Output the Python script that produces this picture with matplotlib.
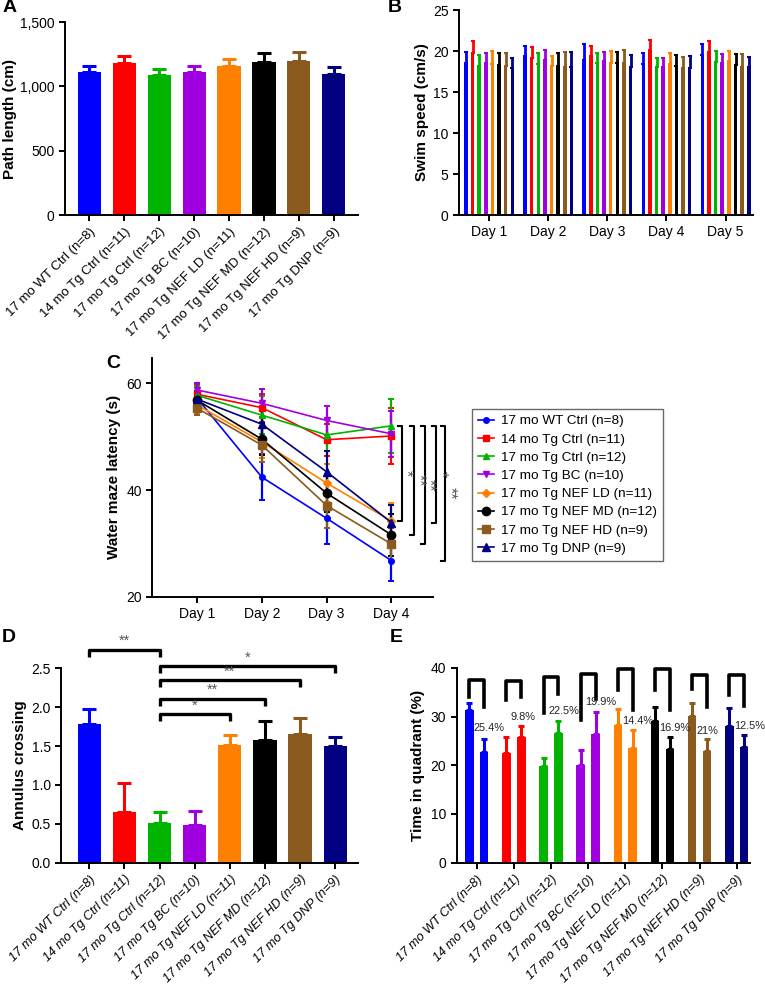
import matplotlib
matplotlib.use("Agg")
import matplotlib.pyplot as plt
from matplotlib.lines import Line2D
import numpy as np

plt.rcParams['font.family'] = ['Liberation Sans', 'DejaVu Sans']

# ---------------------------------------------------------------------------
# Data
# ---------------------------------------------------------------------------

groups = ["17 mo WT Ctrl (n=8)", "14 mo Tg Ctrl (n=11)", "17 mo Tg Ctrl (n=12)",
          "17 mo Tg BC (n=10)", "17 mo Tg NEF LD (n=11)", "17 mo Tg NEF MD (n=12)",
          "17 mo Tg NEF HD (n=9)", "17 mo Tg DNP (n=9)"]
colors = ["#0000ff", "#ff0000", "#00b400", "#a000e0",
          "#ff8000", "#000000", "#8b5a1e", "#000080"]
markers = ["o", "s", "^", "v", "D", "o", "s", "^"]
marker_sizes = [4, 4.5, 5, 5, 4, 6, 6, 6]

# A: path length
path_len = [1113, 1183, 1090, 1113, 1158, 1189, 1197, 1096]
path_err = [47, 55, 44, 45, 59, 72, 67, 56]

# B: swim speed, one row per day, one column per group
swim_days = ["Day 1", "Day 2", "Day 3", "Day 4", "Day 5"]
swim_speed = [
    [18.6, 19.7, 18.2, 18.5, 18.4, 18.3, 18.2, 17.9],
    [19.4, 19.1, 18.4, 18.9, 18.2, 18.2, 18.1, 18.0],
    [18.9, 19.4, 18.5, 18.8, 18.6, 18.6, 18.5, 18.0],
    [18.4, 20.1, 18.1, 18.0, 18.4, 18.2, 17.9, 17.9],
    [19.5, 19.9, 18.7, 18.6, 18.8, 18.3, 18.1, 18.1],
]
swim_err = [
    [1.25, 1.5, 1.3, 1.3, 1.6, 1.4, 1.6, 1.2],
    [1.2, 1.4, 1.3, 1.2, 1.2, 1.6, 1.8, 1.9],
    [2.0, 1.2, 1.2, 1.1, 1.4, 1.3, 1.6, 1.5],
    [1.3, 1.3, 1.1, 1.1, 1.3, 1.3, 1.4, 1.5],
    [1.3, 1.3, 1.3, 1.0, 1.2, 1.3, 1.5, 1.2],
]

# C: water maze latency, one row per group
latency_days = ["Day 1", "Day 2", "Day 3", "Day 4"]
latency = [
    [57.2, 42.4, 34.7, 26.8],
    [57.9, 55.4, 49.4, 50.1],
    [57.7, 54.0, 50.3, 52.0],
    [58.7, 56.2, 53.0, 50.5],
    [55.9, 49.0, 41.3, 34.2],
    [56.8, 49.5, 39.4, 31.6],
    [55.3, 48.4, 37.1, 29.9],
    [57.0, 52.3, 43.4, 33.9],
]
latency_err = [
    [2.8, 4.3, 4.7, 3.9],
    [1.8, 2.6, 3.0, 5.2],
    [1.8, 3.5, 3.0, 5.1],
    [1.3, 2.6, 2.7, 4.3],
    [1.5, 3.0, 3.5, 3.4],
    [1.5, 3.0, 3.5, 4.0],
    [1.2, 3.2, 4.2, 3.0],
    [1.5, 3.0, 3.9, 3.3],
]
# day-4 comparisons vs 17 mo Tg Ctrl (group index, stars)
latency_sig = [(4, "*"), (5, "**"), (6, "**"), (7, "*"), (0, "**")]

# D: annulus crossing
annulus = [1.78, 0.65, 0.51, 0.49, 1.51, 1.58, 1.66, 1.50]
annulus_err = [0.20, 0.38, 0.14, 0.18, 0.13, 0.24, 0.20, 0.12]
annulus_sig = [(0, 2, "**"), (2, 7, "*"), (2, 6, "**"), (2, 5, "**"), (2, 4, "*")]
annulus_sig_y = [2.74, 2.53, 2.35, 2.11, 1.91]

# E: time in quadrant (target / opposite)
quad_a = [31.3, 22.6, 19.8, 20.0, 28.3, 29.1, 30.1, 28.0]
quad_a_err = [1.4, 3.2, 1.6, 3.2, 3.2, 2.8, 2.7, 3.7]
quad_b = [22.8, 25.8, 26.7, 26.5, 23.5, 23.4, 23.0, 23.8]
quad_b_err = [2.6, 2.3, 2.4, 4.5, 3.7, 2.4, 2.3, 2.5]
quad_pct = ["25.4%", "9.8%", "22.5%", "19.9%", "14.4%", "16.9%", "21%", "12.5%"]
# bracket: top, left leg bottom, right leg bottom, label y
quad_brackets = [
    (37.5, 34.1, 31.9, 27.6),
    (37.3, 33.5, 34.1, 30.0),
    (38.2, 30.7, 34.6, 31.2),
    (38.7, 29.3, 33.7, 32.9),
    (39.7, 35.4, 31.4, 29.0),
    (39.7, 35.5, 31.4, 27.6),
    (38.5, 35.6, 32.0, 27.1),
    (38.5, 34.5, 32.2, 28.1),
]


# ---------------------------------------------------------------------------
# Helpers
# ---------------------------------------------------------------------------

def style_axes(ax):
    ax.spines[["top", "right"]].set_visible(False)
    for s in ["left", "bottom"]:
        ax.spines[s].set_linewidth(1.4)
    ax.tick_params(direction="out", width=1.4, length=4, labelsize=10)


def group_xticks(ax, x, italic=False, size=9.5):
    ax.set_xticks(x)
    ax.set_xticklabels(groups, rotation=45, ha="right", rotation_mode="anchor",
                       fontsize=size, style="italic" if italic else "normal")


def bar_panel(ax, vals, errs, width=0.66):
    x = np.arange(len(vals))
    ax.bar(x, vals, width=width, color=colors, zorder=2)
    for xi, v, e, c in zip(x, vals, errs, colors):
        ax.errorbar(xi, v, yerr=[[0], [e]], fmt="none", ecolor=c,
                    elinewidth=2.2, capsize=5, capthick=2.2, zorder=1)
    return x


fig = plt.figure(figsize=(7.65, 9.84), dpi=100)

# ---------------------------------------------------------------------------
# A
# ---------------------------------------------------------------------------
axA = fig.add_axes([0.085, 0.7815, 0.383, 0.196])
x = bar_panel(axA, path_len, path_err)
axA.set_xlim(-0.69, 7.69)
axA.set_ylim(0, 1500)
axA.set_yticks([0, 500, 1000, 1500])
axA.set_yticklabels(["0", "500", "1,000", "1,500"])
axA.set_ylabel("Path length (cm)", fontsize=11, fontweight="bold", labelpad=2)
style_axes(axA)
group_xticks(axA, x)

# ---------------------------------------------------------------------------
# B
# ---------------------------------------------------------------------------
axB = fig.add_axes([0.600, 0.7815, 0.384, 0.2083])
pitch = 0.112
for d in range(len(swim_days)):
    for k in range(len(groups)):
        xb = d + (k - 3.5) * pitch
        axB.bar(xb, swim_speed[d][k], width=0.06, color=colors[k], zorder=2)
        axB.errorbar(xb, swim_speed[d][k], yerr=[[0], [swim_err[d][k]]], fmt="none",
                     ecolor=colors[k], elinewidth=2.0, capsize=1.5, capthick=1.5)
axB.set_xlim(-0.51, 4.46)
axB.set_ylim(0, 25)
axB.set_yticks([0, 5, 10, 15, 20, 25])
axB.set_xticks(range(len(swim_days)))
axB.set_xticklabels(swim_days, fontsize=9.5)
axB.set_ylabel("Swim speed (cm/s)", fontsize=11, fontweight="bold", labelpad=3)
style_axes(axB)

# ---------------------------------------------------------------------------
# C
# ---------------------------------------------------------------------------
axC = fig.add_axes([0.199, 0.3933, 0.367, 0.243])
days = np.arange(1, len(latency_days) + 1)
for g in range(len(groups)):
    axC.errorbar(days, latency[g], yerr=latency_err[g], color=colors[g],
                 marker=markers[g], markersize=marker_sizes[g], linewidth=1.2,
                 elinewidth=1.6, capsize=2.5, capthick=1.4)
axC.set_xlim(0.31, 4.64)
axC.set_ylim(20, 64.7)
axC.set_yticks([20, 40, 60])
axC.set_xticks(days)
axC.set_xticklabels(latency_days, fontsize=9.5)
axC.set_ylabel("Water maze latency (s)", fontsize=11, fontweight="bold")
style_axes(axC)

ref = latency[2][-1]
bx = [4.16, 4.35, 4.51, 4.69, 4.83]
for xb, (g, stars) in zip(bx, latency_sig):
    lo = latency[g][-1]
    axC.plot([xb - 0.06, xb, xb, xb - 0.06], [ref, ref, lo, lo], color="black",
             lw=1.5, clip_on=False)
    axC.text(xb + 0.07, (ref + lo) / 2, stars, rotation=-90, ha="center",
             va="center", fontsize=11.5, color="#555555", clip_on=False)

handles = [Line2D([0], [0], color=colors[g], marker=markers[g],
                  markersize=marker_sizes[g], linewidth=1.2) for g in range(len(groups))]
leg = axC.legend(handles, groups, loc="upper left", bbox_to_anchor=(0.617, 0.5845),
                 bbox_transform=fig.transFigure, fontsize=9.7, frameon=True,
                 fancybox=False, handlelength=1.2, handletextpad=0.5,
                 labelspacing=0.43, borderpad=0.45, borderaxespad=0)
leg.get_frame().set_edgecolor("#444444")
leg.get_frame().set_linewidth(1.0)

# ---------------------------------------------------------------------------
# D
# ---------------------------------------------------------------------------
axD = fig.add_axes([0.080, 0.1233, 0.388, 0.1976])
x = bar_panel(axD, annulus, annulus_err)
axD.set_xlim(-0.8, 7.65)
axD.set_ylim(0, 2.5)
axD.set_yticks([0, 0.5, 1.0, 1.5, 2.0, 2.5])
axD.set_yticklabels(["0.0", "0.5", "1.0", "1.5", "2.0", "2.5"])
axD.set_ylabel("Annulus crossing", fontsize=11, fontweight="bold", labelpad=3)
style_axes(axD)
group_xticks(axD, x, italic=True, size=9.2)

for (i, j, stars), yb in zip(annulus_sig, annulus_sig_y):
    axD.plot([i, i, j, j], [yb - 0.09, yb, yb, yb - 0.09], color="black",
             lw=2.4, clip_on=False, solid_capstyle="butt")
    axD.text((i + j) / 2, yb + 0.02, stars, ha="center", va="bottom",
             fontsize=10.5, color="#555555", clip_on=False)

# ---------------------------------------------------------------------------
# E
# ---------------------------------------------------------------------------
axE = fig.add_axes([0.597, 0.1233, 0.383, 0.198])
x = np.arange(len(groups))
off, w = 0.2, 0.23
for g in range(len(groups)):
    for xx, v, e in [(x[g] - off, quad_a[g], quad_a_err[g]),
                     (x[g] + off, quad_b[g], quad_b_err[g])]:
        axE.bar(xx, v, width=w, color=colors[g], zorder=2)
        axE.errorbar(xx, v, yerr=[[0], [e]], fmt="none", ecolor=colors[g],
                     elinewidth=2.2, capsize=2.5, capthick=2.2, zorder=1)
    top, lb, rb, ly = quad_brackets[g]
    axE.plot([x[g] - off, x[g] - off, x[g] + off, x[g] + off], [lb, top, top, rb],
             color="black", lw=2.6, clip_on=False)
    axE.text(x[g] - 0.08, ly, quad_pct[g], ha="left", va="center", fontsize=7.9,
             color="#222222", clip_on=False)
axE.set_xlim(-0.54, 7.35)
axE.set_ylim(0, 40)
axE.set_yticks([0, 10, 20, 30, 40])
axE.set_ylabel("Time in quadrant (%)", fontsize=11, fontweight="bold")
style_axes(axE)
group_xticks(axE, x, italic=True, size=9.2)

# panel letters
for lab, px, py in [("A", 3, 8), ("B", 388, 8), ("C", 106, 364), ("D", 2, 637), ("E", 390, 638)]:
    fig.text(px / 765, 1 - py / 984, lab, fontsize=14, fontweight="bold",
             ha="left", va="center")

fig.savefig("out.png", dpi=100)
